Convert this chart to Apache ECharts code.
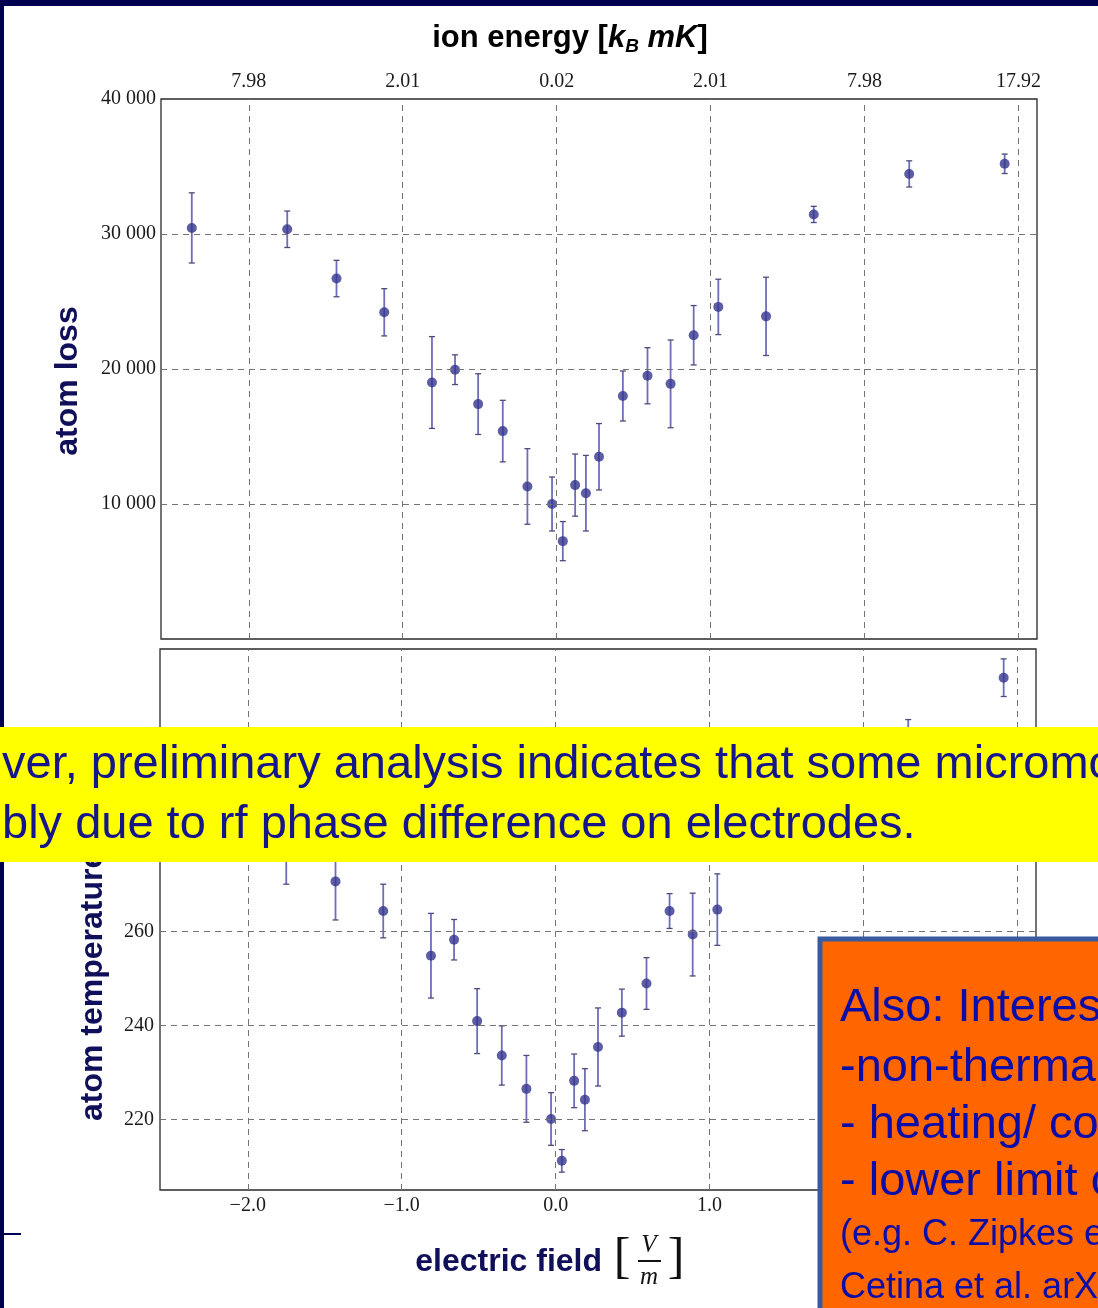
<!DOCTYPE html>
<html>
<head>
<meta charset="utf-8">
<script src="https://cdn.jsdelivr.net/npm/echarts@6/dist/echarts.min.js"></script>
<style>
  html, body { margin: 0; padding: 0; background: #ffffff; }
  #main { width: 1098px; height: 1308px; }
</style>
</head>
<body>
<div id="main"></div>
<script>
// Electric field applied to the ion (V/m), one entry per measurement
const fieldValues = [-2.37, -1.75, -1.43, -1.12, -0.81, -0.66, -0.51, -0.35, -0.19, -0.03, 0.04, 0.12,
                     0.19, 0.275, 0.43, 0.59, 0.74, 0.89, 1.05, 1.36, 1.67, 2.29, 2.91];
// Atom loss and its uncertainty
const lossValues = [30450, 30350, 26700, 24200, 19000, 19950, 17400, 15400, 11300, 10000, 7250, 11400,
                    10800, 13500, 18000, 19500, 18900, 22500, 24600, 23900, 31450, 34450, 35200];
const lossErrors = [2600, 1350, 1350, 1750, 3400, 1100, 2250, 2280, 2800, 2000, 1450, 2300,
                    2800, 2460, 1850, 2080, 3250, 2200, 2050, 2900, 600, 970, 720];
// Atom temperature and its uncertainty
const tempValues = [284, 278, 270.6, 264.3, 254.8, 258.2, 240.9, 233.6, 226.5, 220.1, 211.2, 228.2,
                    224.2, 235.4, 242.7, 248.9, 264.3, 259.3, 264.6, 286, 292, 298, 313.9];
const tempErrors = [6, 8, 8.2, 5.7, 9, 4.3, 6.9, 6.3, 7.1, 5.6, 2.4, 5.7,
                    6.6, 8.3, 5, 5.5, 3.7, 8.8, 7.6, 8, 4, 7, 4];
// Tick positions on the field axis and the matching ion energies (k_B mK)
const fieldTicks = [-2, -1, 0, 1, 2, 3];
const energyTicks = ['7.98', '2.01', '0.02', '2.01', '7.98', '17.92'];
const lossTicks = [10000, 20000, 30000, 40000];
const tempTicks = [220, 240, 260, 280, 300];

const NAVY = '#000050';
const LABEL_NAVY = '#10105a';
const TICK_FONT = { fontFamily: 'Liberation Serif', fontSize: 20, color: '#1a1a1a' };

function errorBarItem(params, api) {
  const x = api.value(0), lo = api.value(1), hi = api.value(2);
  const top = api.coord([x, hi]);
  const bot = api.coord([x, lo]);
  const w = 3;
  return {
    type: 'group',
    children: [
      { type: 'line', shape: { x1: top[0], y1: top[1], x2: bot[0], y2: bot[1] },
        style: { stroke: '#6e6eb8', lineWidth: 1.8 } },
      { type: 'line', shape: { x1: top[0] - w, y1: top[1], x2: top[0] + w, y2: top[1] },
        style: { stroke: '#4c4c7c', lineWidth: 1.3 } },
      { type: 'line', shape: { x1: bot[0] - w, y1: bot[1], x2: bot[0] + w, y2: bot[1] },
        style: { stroke: '#4c4c7c', lineWidth: 1.3 } }
    ]
  };
}

const gridLineStyle = { color: '#747474', width: 1, type: [6, 5] };

function gridLines(xs, ys) {
  const data = [];
  xs.forEach(v => data.push({ xAxis: v }));
  ys.forEach(v => data.push({ yAxis: v }));
  return {
    silent: true, symbol: ['none', 'none'], animation: false,
    label: { show: false }, lineStyle: gridLineStyle,
    emphasis: { disabled: true }, data: data
  };
}

const lossBars = fieldValues.map((x, i) => [x, lossValues[i] - lossErrors[i], lossValues[i] + lossErrors[i]]);
const tempBars = fieldValues.map((x, i) => [x, tempValues[i] - tempErrors[i], tempValues[i] + tempErrors[i]]);
const lossPoints = fieldValues.map((x, i) => [x, lossValues[i]]);
const tempPoints = fieldValues.map((x, i) => [x, tempValues[i]]);

const fmtField = v => (v < 0 ? '\u2212' : '') + Math.abs(v).toFixed(1);
const fmtLoss = v => String(v).replace(/(\d)(?=(\d{3})+$)/g, '$1 ');

const option = {
  animation: false,
  backgroundColor: '#ffffff',
  grid: [
    { left: 161, top: 99, width: 876, height: 540, show: true, borderColor: '#2a2a2a', borderWidth: 1.3, backgroundColor: '#ffffff' },
    { left: 160, top: 649, width: 876, height: 541, show: true, borderColor: '#2a2a2a', borderWidth: 1.3, backgroundColor: '#ffffff' }
  ],
  xAxis: [
    { type: 'value', gridIndex: 0, position: 'top', min: -2.57, max: 3.12,
      axisLine: { show: false }, axisTick: { show: false }, splitLine: { show: false },
      axisLabel: Object.assign({ customValues: fieldTicks, margin: 7,
        formatter: v => energyTicks[fieldTicks.indexOf(Math.round(v))] }, TICK_FONT) },
    { type: 'value', gridIndex: 1, position: 'bottom', min: -2.57, max: 3.12,
      axisLine: { show: false }, axisTick: { show: false }, splitLine: { show: false },
      axisLabel: Object.assign({ customValues: fieldTicks, margin: 6, formatter: fmtField }, TICK_FONT) }
  ],
  yAxis: [
    { type: 'value', gridIndex: 0, min: 0, max: 40000,
      axisLine: { show: false }, axisTick: { show: false }, splitLine: { show: false },
      axisLabel: Object.assign({ customValues: lossTicks, margin: 5, formatter: fmtLoss }, TICK_FONT) },
    { type: 'value', gridIndex: 1, min: 205, max: 320,
      axisLine: { show: false }, axisTick: { show: false }, splitLine: { show: false },
      axisLabel: Object.assign({ customValues: tempTicks, margin: 6, formatter: v => String(v) }, TICK_FONT) }
  ],
  series: [
    { type: 'scatter', xAxisIndex: 0, yAxisIndex: 0, data: [], z: 1,
      markLine: gridLines(fieldTicks, [10000, 20000, 30000]) },
    { type: 'scatter', xAxisIndex: 1, yAxisIndex: 1, data: [], z: 1,
      markLine: gridLines(fieldTicks, tempTicks) },
    { type: 'custom', xAxisIndex: 0, yAxisIndex: 0, data: lossBars, renderItem: errorBarItem,
      encode: { x: 0, y: [1, 2] }, z: 2, silent: true },
    { type: 'custom', xAxisIndex: 1, yAxisIndex: 1, data: tempBars, renderItem: errorBarItem,
      encode: { x: 0, y: [1, 2] }, z: 2, silent: true },
    { type: 'scatter', xAxisIndex: 0, yAxisIndex: 0, data: lossPoints, symbol: 'circle', symbolSize: 10,
      itemStyle: { color: '#35358f' }, z: 3, silent: true },
    { type: 'scatter', xAxisIndex: 1, yAxisIndex: 1, data: tempPoints, symbol: 'circle', symbolSize: 10,
      itemStyle: { color: '#35358f' }, z: 3, silent: true }
  ],
  graphic: [
    // slide frame
    { type: 'rect', z: 100, shape: { x: 0, y: 0, width: 1098, height: 6 }, style: { fill: NAVY } },
    { type: 'rect', z: 100, shape: { x: 0, y: 0, width: 4, height: 1308 }, style: { fill: NAVY } },
    { type: 'rect', z: 100, shape: { x: 0, y: 1233, width: 21, height: 2 }, style: { fill: NAVY } },
    // top axis title
    { type: 'text', z: 100, x: 570, y: 38,
      style: { text: '{n|ion energy [}{i|k}{s|B}{i| mK}{n|]}', align: 'center', verticalAlign: 'middle',
        rich: {
          n: { fontFamily: 'Liberation Sans', fontWeight: 'bold', fontSize: 31, color: LABEL_NAVY, lineHeight: 36 },
          i: { fontFamily: 'Liberation Sans', fontWeight: 'bold', fontStyle: 'italic', fontSize: 31, color: LABEL_NAVY, lineHeight: 36 },
          s: { fontFamily: 'Liberation Sans', fontWeight: 'bold', fontStyle: 'italic', fontSize: 19, color: LABEL_NAVY, lineHeight: 21, verticalAlign: 'bottom' }
        } } },
    // vertical axis names
    { type: 'text', z: 100, x: 68, y: 381, rotation: Math.PI / 2,
      style: { text: 'atom loss', align: 'center', verticalAlign: 'middle',
        fontFamily: 'Liberation Sans', fontWeight: 'bold', fontSize: 32, fill: LABEL_NAVY } },
    { type: 'text', z: 100, x: 93, y: 1121, rotation: Math.PI / 2,
      style: { text: 'atom temperature', align: 'left', verticalAlign: 'middle',
        fontFamily: 'Liberation Sans', fontWeight: 'bold', fontSize: 32, fill: LABEL_NAVY } },
    // bottom axis title with the unit fraction
    { type: 'text', z: 100, x: 602, y: 1262,
      style: { text: 'electric field', align: 'right', verticalAlign: 'middle',
        fontFamily: 'Liberation Sans', fontWeight: 'bold', fontSize: 32, fill: LABEL_NAVY } },
    { type: 'text', z: 100, x: 622, y: 1259,
      style: { text: '[', align: 'center', verticalAlign: 'middle',
        fontFamily: 'Liberation Serif', fontSize: 50, fill: '#111' } },
    { type: 'text', z: 100, x: 676, y: 1259,
      style: { text: ']', align: 'center', verticalAlign: 'middle',
        fontFamily: 'Liberation Serif', fontSize: 50, fill: '#111' } },
    { type: 'text', z: 100, x: 649, y: 1245,
      style: { text: 'V', align: 'center', verticalAlign: 'middle',
        fontFamily: 'Liberation Serif', fontStyle: 'italic', fontSize: 25, fill: '#111' } },
    { type: 'rect', z: 100, shape: { x: 638, y: 1260, width: 23, height: 2 }, style: { fill: '#111' } },
    { type: 'text', z: 100, x: 649, y: 1277,
      style: { text: 'm', align: 'center', verticalAlign: 'middle',
        fontFamily: 'Liberation Serif', fontStyle: 'italic', fontSize: 25, fill: '#111' } },
    // highlighted note across the plot
    { type: 'rect', z: 110, shape: { x: 0, y: 727, width: 1098, height: 135 }, style: { fill: '#ffff00' } },
    { type: 'text', z: 111, x: 2, y: 765,
      style: { text: 'ver, preliminary analysis indicates that some micromotion remains,', align: 'left', verticalAlign: 'middle',
        fontFamily: 'Liberation Sans', fontSize: 47, fill: '#15158c' } },
    { type: 'text', z: 111, x: 2, y: 825,
      style: { text: 'bly due to rf phase difference on electrodes.', align: 'left', verticalAlign: 'middle',
        fontFamily: 'Liberation Sans', fontSize: 47, fill: '#15158c' } },
    // side box
    { type: 'rect', z: 110, shape: { x: 820, y: 939, width: 320, height: 420 },
      style: { fill: '#ff6600', stroke: '#3a5aa0', lineWidth: 5 } },
    { type: 'text', z: 111, x: 840, y: 1008,
      style: { text: 'Also: Interesting', align: 'left', verticalAlign: 'middle',
        fontFamily: 'Liberation Sans', fontSize: 47, fill: '#0c0ca8' } },
    { type: 'text', z: 111, x: 840, y: 1068,
      style: { text: '-non-thermal', align: 'left', verticalAlign: 'middle',
        fontFamily: 'Liberation Sans', fontSize: 47, fill: '#0c0ca8' } },
    { type: 'text', z: 111, x: 840, y: 1125,
      style: { text: '- heating/ cooling', align: 'left', verticalAlign: 'middle',
        fontFamily: 'Liberation Sans', fontSize: 47, fill: '#0c0ca8' } },
    { type: 'text', z: 111, x: 840, y: 1182,
      style: { text: '- lower limit on', align: 'left', verticalAlign: 'middle',
        fontFamily: 'Liberation Sans', fontSize: 47, fill: '#0c0ca8' } },
    { type: 'text', z: 111, x: 840, y: 1235,
      style: { text: '(e.g. C. Zipkes et al.', align: 'left', verticalAlign: 'middle',
        fontFamily: 'Liberation Sans', fontSize: 36, fill: '#0c0ca8' } },
    { type: 'text', z: 111, x: 840, y: 1288,
      style: { text: 'Cetina et al. arXiv', align: 'left', verticalAlign: 'middle',
        fontFamily: 'Liberation Sans', fontSize: 36, fill: '#0c0ca8' } }
  ]
};

const chart = echarts.init(document.getElementById('main'), null, { renderer: 'canvas' });
chart.setOption(option);
</script>
</body>
</html>
